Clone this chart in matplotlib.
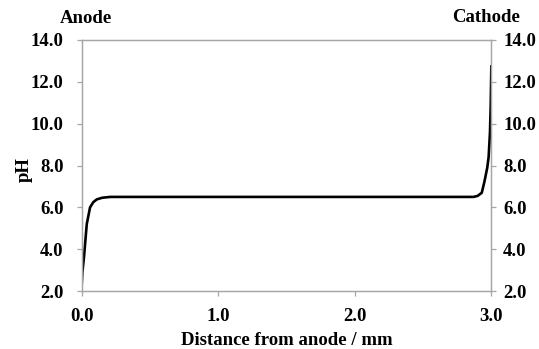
import numpy as np
import matplotlib.pyplot as plt

# pH profile
distance = [0.0, 0.005, 0.017, 0.037, 0.061, 0.085, 0.11, 0.15, 0.21, 0.3, 1.0, 2.0,
            2.8, 2.87, 2.9, 2.93, 2.95, 2.97, 2.98, 2.99, 2.995, 3.0]
ph = [2.3, 2.9, 3.65, 5.2, 6.0, 6.25, 6.38, 6.46, 6.5, 6.5, 6.5, 6.5,
      6.5, 6.5, 6.55, 6.7, 7.25, 7.9, 8.4, 9.6, 10.8, 12.8]

xticks = [0.0, 1.0, 2.0, 3.0]
yticks = [2.0, 4.0, 6.0, 8.0, 10.0, 12.0, 14.0]

plt.rcParams["font.family"] = ["Liberation Serif", "DejaVu Serif"]
plt.rcParams["font.weight"] = "bold"
FS = 13.5
GREY = "#a6a6a6"

fig = plt.figure(figsize=(5.39, 3.49), dpi=100)
ax = fig.add_axes([0.1516, 0.166, 0.760, 0.7194])

ax.plot(distance, ph, color="black", linewidth=1.9, solid_capstyle="butt")

ax.set_xlim(0, 3)
ax.set_ylim(2, 14)
ax.set_xticks(xticks)
ax.set_yticks(yticks)
ax.set_xticklabels([f"{v:.1f}" for v in xticks])
ax.set_yticklabels([f"{v:.1f}" for v in yticks])

# right-hand axis repeats the pH scale
ax2 = ax.twinx()
ax2.set_ylim(ax.get_ylim())
ax2.set_yticks(yticks)
ax2.set_yticklabels([f"{v:.1f}" for v in yticks])

for a in (ax, ax2):
    for s in a.spines.values():
        s.set_color(GREY)
        s.set_linewidth(0.9)
    a.tick_params(axis="both", colors=GREY, labelcolor="black",
                  labelsize=FS, direction="out", length=3.5, width=0.9)
ax.tick_params(axis="y", pad=9.5)
ax2.tick_params(axis="y", pad=5)
ax.tick_params(axis="x", pad=8.5)

ax.set_xlabel("Distance from anode / mm", fontsize=FS, fontweight="bold", labelpad=5.5)
fig.text(0.045, 0.513, "pH", rotation=90, fontsize=FS, fontweight="bold",
         ha="center", va="center")

fig.text(0.111, 0.948, "Anode", fontsize=FS, fontweight="bold", ha="left", va="center")
fig.text(0.965, 0.951, "Cathode", fontsize=FS, fontweight="bold", ha="right", va="center")

fig.savefig("out.png", dpi=100)
